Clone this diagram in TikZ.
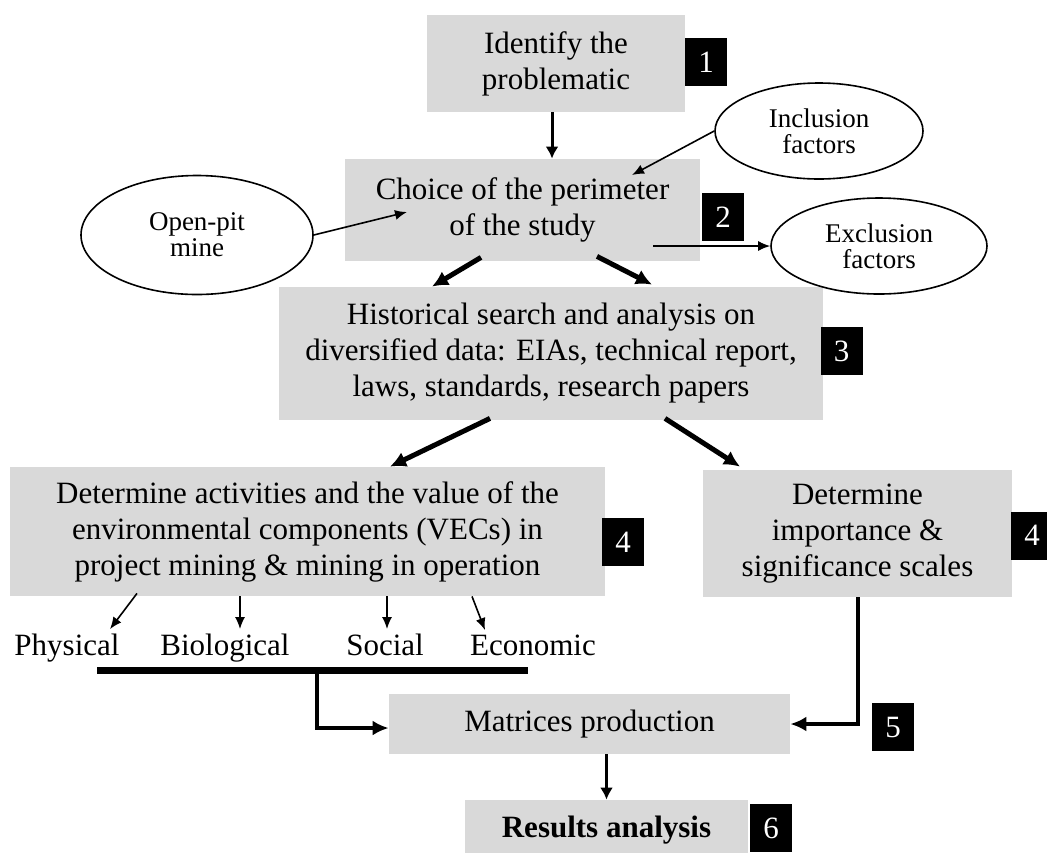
\documentclass[tikz,border=0pt]{standalone}
\usepackage{fontspec}
\setmainfont{Liberation Serif}
\usetikzlibrary{shapes.geometric,arrows.meta}
\definecolor{boxgray}{HTML}{D9D9D9}
\newcommand{\mainsz}{\fontsize{15.5}{18}\selectfont}
\newcommand{\ellsz}{\fontsize{13.5}{13}\selectfont}
\tikzset{
  stepbox/.style={fill=boxgray, align=center, inner sep=0pt, font=\mainsz},
  numbox/.style={fill=black, text=white, minimum width=21pt, minimum height=24pt, inner sep=0pt, font=\mainsz},
  factor/.style={draw, ellipse, align=center, line width=0.8pt, inner sep=0pt, font=\ellsz},
  vec/.style={inner sep=0pt, anchor=base, font=\mainsz},
  bigarrow/.style={line width=2.5pt, -{Latex[length=8pt,width=8pt]}},
  midarrow/.style={line width=1.5pt, -{Latex[length=6pt,width=6.5pt]}},
  smallarrow/.style={line width=0.8pt, -{Latex[length=6pt,width=5pt]}},
  linkarrow/.style={line width=2pt, -{Latex[length=8pt,width=7.5pt]}},
}
\begin{document}
\begin{tikzpicture}[x=0.5pt, y=-0.5pt]
  \useasboundingbox (0,0) rectangle (1047,852);
  \clip (0,0) rectangle (1047,852);
  % steps
  \node[stepbox, minimum width=129pt, minimum height=48.5pt] (b1) at (556,63.5) {Identify the\\problematic};
  \node[stepbox, minimum width=177.5pt, minimum height=51pt] (b2) at (522.5,210) {Choice of the perimeter\\of the study};
  \node[stepbox, minimum width=272pt, minimum height=66.5pt] (b3) at (551,353.5) {Historical search and analysis on\\diversified data: EIAs, technical report,\\laws, standards, research papers};
  \node[stepbox, minimum width=297.5pt, minimum height=64.5pt] (b4) at (307.5,531.5) {Determine activities and the value of the\\environmental components (VECs) in\\project mining \& mining in operation};
  \node[stepbox, minimum width=154.5pt, minimum height=63.5pt] (b4r) at (857.5,533.5) {Determine\\importance \&\\significance scales};
  \node[stepbox, minimum width=200.5pt, minimum height=30pt] (b5) at (589.5,724) {Matrices production};
  \node[stepbox, minimum width=141.5pt, minimum height=30pt, font=\mainsz\bfseries] (b6) at (606.5,830) {Results analysis};
  % numbers
  \node[numbox] (n1) at (706,62) {1};
  \node[numbox] (n2) at (723,217) {2};
  \node[numbox] (n3) at (841.5,351) {3};
  \node[numbox] (n4) at (623,542) {4};
  \node[numbox] (n4r) at (1032,535.5) {4};
  \node[numbox] (n5) at (893,727) {5};
  \node[numbox] (n6) at (771,828) {6};
  % factors
  \node[factor, minimum width=104pt, minimum height=48pt] (incl) at (819,131) {Inclusion\\factors};
  \node[factor, minimum width=116pt, minimum height=59.5pt] (mine) at (197,235) {Open-pit\\mine};
  \node[factor, minimum width=108pt, minimum height=48pt] (excl) at (879,246) {Exclusion\\factors};
  % components
  \node[vec] (phys) at (67,655) {Physical};
  \node[vec] (bio) at (225,655) {Biological};
  \node[vec] (soc) at (385,655) {Social};
  \node[vec] (eco) at (533,655) {Economic};
  \coordinate (barL) at (97,670);
  \coordinate (barR) at (528,670);
  \coordinate (barM) at (317,670);
  % connectors
  \draw[midarrow] ([xshift=-2pt]b1.south) -- ([xshift=-2pt]b1.south |- b2.north);
  \draw[smallarrow] (incl.west) -- ([shift={(54.75pt,17.5pt)}]b2.center);
  \draw[smallarrow] (mine.east) -- ([shift={(-57.75pt,-1pt)}]b2.center);
  \draw[smallarrow] ([shift={(65.25pt,-18pt)}]b2.center) -- (excl.west);
  \draw[bigarrow] ([shift={(-20.75pt,2pt)}]b2.south) -- ([xshift=-59.5pt]b3.north);
  \draw[bigarrow] ([shift={(37.25pt,2.5pt)}]b2.south) -- ([shift={(50.5pt,1pt)}]b3.north);
  \draw[bigarrow] ([shift={(-30.5pt,1pt)}]b3.south) -- ([xshift=41.25pt]b4.north);
  \draw[bigarrow] ([shift={(57pt,1pt)}]b3.south) -- ([shift={(-58.75pt,1.5pt)}]b4r.north);
  \draw[smallarrow] ([shift={(-85.25pt,1.5pt)}]b4.south) -- ([shift={(21.5pt,2pt)}]phys.north);
  \draw[smallarrow] ([xshift=-33.75pt]b4.south) -- ([shift={(7.5pt,2pt)}]bio.north);
  \draw[smallarrow] ([xshift=39.75pt]b4.south) -- ([shift={(1pt,2pt)}]soc.north);
  \draw[smallarrow] ([xshift=82.25pt]b4.south) -- ([shift={(-24pt,2pt)}]eco.north);
  \draw[line width=3.5pt] (barL) -- (barR);
  \draw[linkarrow] (barM) |- ([yshift=-2pt]b5.west);
  \draw[linkarrow] (b4r.south) |- (b5.east);
  \draw[midarrow] (b6.north |- b5.south) -- (b6.north);
\end{tikzpicture}
\end{document}
